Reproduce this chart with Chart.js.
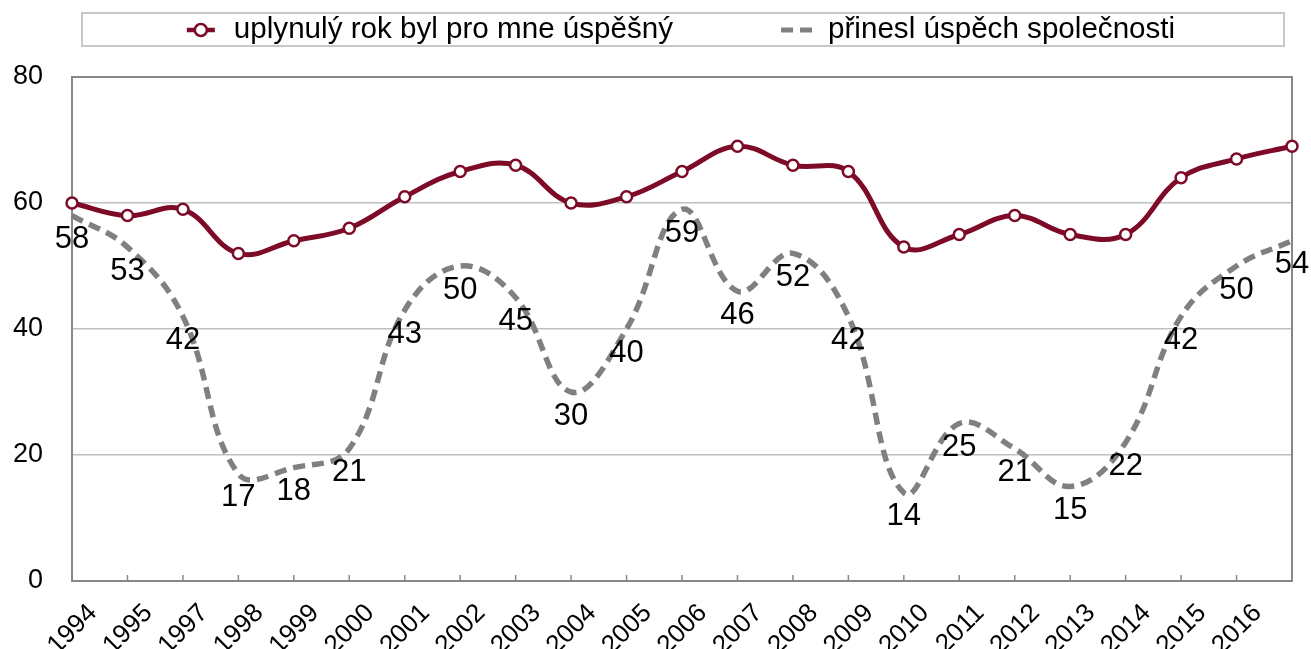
<!DOCTYPE html>
<html>
<head>
<meta charset="utf-8">
<title>chart</title>
<script src="https://cdn.jsdelivr.net/npm/chart.js@4"></script>
<style>
  html, body { margin: 0; padding: 0; background: #fff; }
  #ex_chart { display: block; }
</style>
</head>
<body>
<canvas id="ex_chart" width="1311" height="649"></canvas>
<script>
// data
const years = ['1994', '1995', '1997', '1998', '1999', '2000', '2001', '2002', '2003', '2004', '2005',
               '2006', '2007', '2008', '2009', '2010', '2011', '2012', '2013', '2014', '2015', '2016', ''];
const mySuccess = [60, 58, 59, 52, 54, 56, 61, 65, 66, 60, 61, 65, 69, 66, 65, 53, 55, 58, 55, 55, 64, 67, 69];
const societySuccess = [58, 53, 42, 17, 18, 21, 43, 50, 45, 30, 40, 59, 46, 52, 42, 14, 25, 21, 15, 22, 42, 50, 54];
const yTicks = [0, 20, 40, 60, 80];
const seriesNames = ['uplynulý rok byl pro mne úspěšný', 'přinesl úspěch společnosti'];

const FONT = '"Liberation Sans", Arial, Helvetica, sans-serif';
const RED = '#7d0a26';
const GREY = '#808080';
const AXIS = '#8a8785';

window.addEventListener('load', function () {
    const ctx = document.getElementById('ex_chart');

    // legend in a box at the top
    const boxLegend = {
        id: 'boxLegend',
        afterDraw(chart) {
            const c = chart.ctx;
            c.save();
            c.strokeStyle = '#c8c8c8';
            c.lineWidth = 2;
            c.strokeRect(82, 13, 1202, 33);
            c.font = '29.6px ' + FONT;
            c.textBaseline = 'middle';
            c.fillStyle = '#000';
            const y = 30;
            const w1 = c.measureText(seriesNames[0]).width;
            const w2 = c.measureText(seriesNames[1]).width;
            const mark = 28, gap = 19, itemGap = 108;
            const total = mark + gap + w1 + itemGap + mark + gap + w2;
            let x = 681 - total / 2;
            // item 1
            c.strokeStyle = RED;
            c.lineWidth = 4.5;
            c.beginPath(); c.moveTo(x, y); c.lineTo(x + mark, y); c.stroke();
            c.beginPath(); c.arc(x + mark / 2, y, 6, 0, Math.PI * 2);
            c.fillStyle = '#fff'; c.fill();
            c.lineWidth = 2.5; c.stroke();
            c.fillStyle = '#000';
            c.fillText(seriesNames[0], x + mark + gap, y);
            x += mark + gap + w1 + itemGap;
            // item 2
            c.strokeStyle = GREY;
            c.lineWidth = 5;
            c.setLineDash([12, 7]);
            c.beginPath(); c.moveTo(x, y); c.lineTo(x + mark + 6, y); c.stroke();
            c.setLineDash([]);
            c.fillText(seriesNames[1], x + mark + gap, y);
            c.restore();
        }
    };

    // frame top/right + inside tick marks on x axis
    const frame = {
        id: 'frame',
        beforeDatasetsDraw(chart) {
            const a = chart.chartArea;
            const xs = chart.scales.x;
            const c = chart.ctx;
            c.save();
            c.strokeStyle = AXIS;
            c.lineWidth = 2;
            c.beginPath();
            c.moveTo(a.left, a.top); c.lineTo(a.right, a.top); c.lineTo(a.right, a.bottom);
            c.stroke();
            c.lineWidth = 1.5;
            for (let i = 0; i < years.length; i++) {
                const px = xs.getPixelForValue(i);
                c.beginPath(); c.moveTo(px, a.bottom); c.lineTo(px, a.bottom - 6); c.stroke();
            }
            c.restore();
        }
    };

    // value labels under the dashed series
    const valueLabels = {
        id: 'valueLabels',
        afterDatasetsDraw(chart) {
            const meta = chart.getDatasetMeta(1);
            const c = chart.ctx;
            c.save();
            c.font = '31px ' + FONT;
            c.fillStyle = '#000';
            c.textAlign = 'center';
            c.textBaseline = 'middle';
            meta.data.forEach((pt, i) => {
                c.fillText(String(societySuccess[i]), pt.x, pt.y + 24);
            });
            c.restore();
        }
    };

    const data = {
        labels: years,
        datasets: [{
            label: seriesNames[0],
            data: mySuccess,
            borderColor: RED,
            borderWidth: 5,
            tension: 0.4,
            pointRadius: 5.5,
            pointBorderWidth: 2.5,
            pointBackgroundColor: '#fff',
            pointBorderColor: RED,
            fill: false
        }, {
            label: seriesNames[1],
            data: societySuccess,
            borderColor: GREY,
            borderWidth: 5.5,
            borderDash: [12, 7],
            tension: 0.4,
            pointRadius: 0,
            fill: false
        }]
    };

    const options = {
        responsive: false,
        devicePixelRatio: 1,
        animation: false,
        layout: { padding: { top: 77, right: 19, left: 0, bottom: 0 } },
        plugins: {
            legend: { display: false },
            tooltip: { enabled: false }
        },
        scales: {
            x: {
                offset: false,
                grid: { display: false, drawTicks: false },
                border: { display: true, color: AXIS, width: 2 },
                ticks: {
                    autoSkip: false,
                    minRotation: 45,
                    maxRotation: 45,
                    labelOffset: 21,
                    padding: 17,
                    color: '#000',
                    font: { family: FONT, size: 26 }
                },
                afterFit(scale) {
                    scale.height = 68;
                    scale.paddingRight = 0;
                    scale.paddingLeft = 0;
                }
            },
            y: {
                min: yTicks[0],
                max: yTicks[yTicks.length - 1],
                afterBuildTicks(scale) { scale.ticks = yTicks.map(v => ({ value: v })); },
                grid: { color: '#c0c0c0', lineWidth: 1.5, drawTicks: false },
                border: { display: true, color: AXIS, width: 2 },
                ticks: {
                    padding: 29,
                    color: '#000',
                    font: { family: FONT, size: 27 }
                },
                afterFit(scale) { scale.width = 72; }
            }
        }
    };

    new Chart(ctx, {
        type: 'line',
        data: data,
        options: options,
        plugins: [frame, valueLabels, boxLegend]
    });
});
</script>
</body>
</html>
